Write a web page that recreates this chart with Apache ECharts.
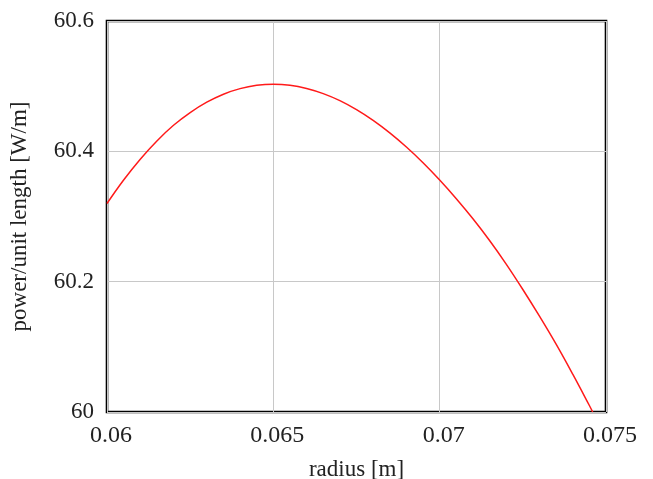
<!DOCTYPE html>
<html><head><meta charset="utf-8">
<script src="https://cdn.jsdelivr.net/npm/echarts@6/dist/echarts.min.js"></script>
<style>html,body{margin:0;padding:0;background:#fff}#c{width:653px;height:479px}</style>
</head><body><div id="c"></div>
<script>
const radius = [0.0600,0.0605,0.0610,0.0615,0.0620,0.0625,0.0630,0.0635,0.0640,0.0645,0.0650,0.0655,0.0660,0.0665,0.0670,0.0675,0.0680,0.0685,0.0690,0.0695,0.0700,0.0705,0.0710,0.0715,0.0720,0.0725,0.0730,0.0735,0.0740,0.0745,0.0746];
const power = [60.320,60.356,60.388,60.416,60.440,60.4595,60.4754,60.4877,60.4962,60.5013,60.503,60.5014,60.4965,60.4886,60.4778,60.4640,60.4475,60.4283,60.4066,60.3825,60.356,60.3273,60.2965,60.2632,60.2270,60.1880,60.1470,60.1040,60.0580,60.0100,60.000];
const xTicks = [0.06,0.065,0.07,0.075];
const yTicks = [60,60.2,60.4,60.6];

const chart = echarts.init(document.getElementById('c'), null, {renderer:'canvas'});
const font = 'Liberation Serif';
chart.setOption({
  animation:false,
  grid:{left:107,right:47,top:21,bottom:67,show:true,borderColor:'#000',borderWidth:2.6,
    backgroundColor:'transparent',containLabel:false,outerBoundsMode:'none'},
  xAxis:{type:'value',min:0.06,max:0.075,interval:0.005,
    name:'radius [m]',nameLocation:'middle',nameGap:46,
    nameTextStyle:{fontFamily:font,fontSize:23,color:'#222'},
    axisLine:{show:false},axisTick:{show:false},
    axisLabel:{fontFamily:font,fontSize:24,color:'#222',margin:12,padding:[0,0,0,8],
      formatter:v=>String(+v.toFixed(4))},
    splitLine:{show:true,lineStyle:{color:'#c8c8c8',width:1}}},
  yAxis:{type:'value',min:60,max:60.6,interval:0.2,
    name:'power/unit length [W/m]',nameLocation:'middle',nameGap:76,
    nameTextStyle:{fontFamily:font,fontSize:23,color:'#222'},
    axisLine:{show:false},axisTick:{show:false},
    axisLabel:{fontFamily:font,fontSize:23,color:'#222',margin:13,padding:[6,0,0,0],
      formatter:v=>String(+v.toFixed(1))},
    splitLine:{show:true,lineStyle:{color:'#c8c8c8',width:1}}},
  series:[{type:'line',data:radius.map((r,i)=>[r,power[i]]),showSymbol:false,smooth:0.4,
    lineStyle:{color:'#ff1a1a',width:1.5},clip:true}]
});
</script></body></html>
